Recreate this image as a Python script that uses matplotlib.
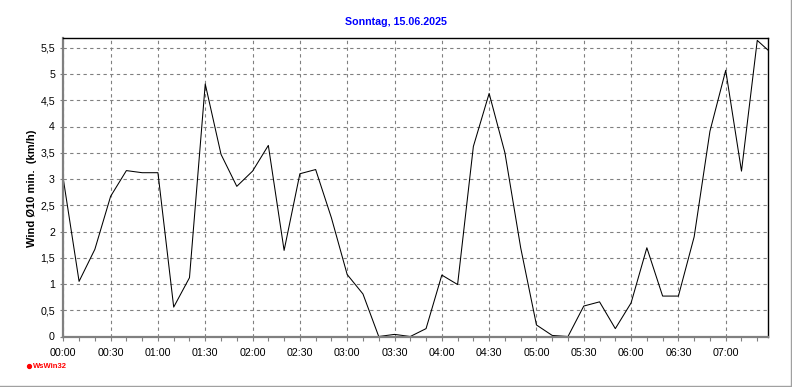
import matplotlib
matplotlib.use('Agg')
import matplotlib.pyplot as plt
from matplotlib.ticker import MultipleLocator, FuncFormatter
from matplotlib.lines import Line2D

plt.rcParams['font.family'] = ['Liberation Sans', 'DejaVu Sans']

# minutes after midnight, 10 min steps plus the last reading
minutes = [0, 10, 20, 30, 40, 50, 60, 70, 80, 90, 100, 110, 120, 130, 140, 150,
           160, 170, 180, 190, 200, 210, 220, 230, 240, 250, 260, 270, 280, 290,
           300, 310, 320, 330, 340, 350, 360, 370, 380, 390, 400, 410, 420, 430,
           440, 447]
wind = [3.0, 1.05, 1.66, 2.67, 3.16, 3.12, 3.12, 0.56, 1.12, 4.81, 3.47, 2.86,
        3.15, 3.64, 1.64, 3.10, 3.18, 2.26, 1.18, 0.81, 0.0, 0.04, 0.0, 0.15,
        1.17, 0.99, 3.62, 4.63, 3.50, 1.69, 0.22, 0.02, 0.0, 0.58, 0.66, 0.15,
        0.64, 1.69, 0.77, 0.77, 1.90, 3.91, 5.07, 3.15, 5.64, 5.45]

title = 'Sonntag, 15.06.2025'
ylabel = 'Wind Ø10 min.  (km/h)'

fig = plt.figure(figsize=(7.92, 3.87), dpi=100)
ax = fig.add_axes([63.3 / 792, (387 - 336.5) / 387, (768.3 - 63.3) / 792, (336.5 - 38.3) / 387])

ax.plot(minutes, wind, color='black', lw=0.75)

ax.set_xlim(0, 447)
ax.set_ylim(0, 5.68)

ax.xaxis.set_major_locator(MultipleLocator(30))
ax.xaxis.set_minor_locator(MultipleLocator(10))
ax.xaxis.set_major_formatter(FuncFormatter(lambda v, p: '%02d:%02d' % (int(v) // 60, int(v) % 60)))
ax.yaxis.set_major_locator(MultipleLocator(0.5))
ax.yaxis.set_major_formatter(FuncFormatter(lambda v, p: ('%g' % v).replace('.', ',')))

ax.grid(True, which='major', color='#808080', linestyle=(0, (3, 3)), lw=0.8)

gray = '#808080'
ax.spines['left'].set_color(gray)
ax.spines['bottom'].set_color(gray)
ax.spines['left'].set_linewidth(1.6)
ax.spines['bottom'].set_linewidth(1.6)
ax.spines['top'].set_linewidth(1.0)
ax.spines['right'].set_linewidth(1.0)

ax.tick_params(axis='x', which='both', length=3, width=0.8, color=gray, labelsize=7.7, pad=5)
ax.tick_params(axis='y', which='both', length=2, width=0.8, color=gray, labelsize=7.7, pad=4)

fig.text(396 / 792, 1 - 22 / 387, title, color='#0000ff', fontsize=7.7, fontweight='bold',
         ha='center', va='center')
fig.text(32 / 792, 1 - 188 / 387, ylabel, rotation=90, fontsize=8, fontweight='bold',
         ha='center', va='center')

# logo bottom left
fig.add_artist(Line2D([29 / 792], [1 - 366 / 387], marker='o', markersize=2.8,
                      color='red', markerfacecolor='red', transform=fig.transFigure))
fig.text(33 / 792, 1 - 366 / 387, 'WsWin32', color='red', fontsize=5.5, fontweight='bold',
         ha='left', va='center')

# image frame
fig.add_artist(Line2D([0, 790.5 / 792], [1.5 / 387, 1.5 / 387], color='#a0a0a0', lw=1,
                      transform=fig.transFigure))
fig.add_artist(Line2D([790.5 / 792, 790.5 / 792], [1.5 / 387, 1], color='#a0a0a0', lw=1,
                      transform=fig.transFigure))

fig.savefig('out.png', dpi=100)
